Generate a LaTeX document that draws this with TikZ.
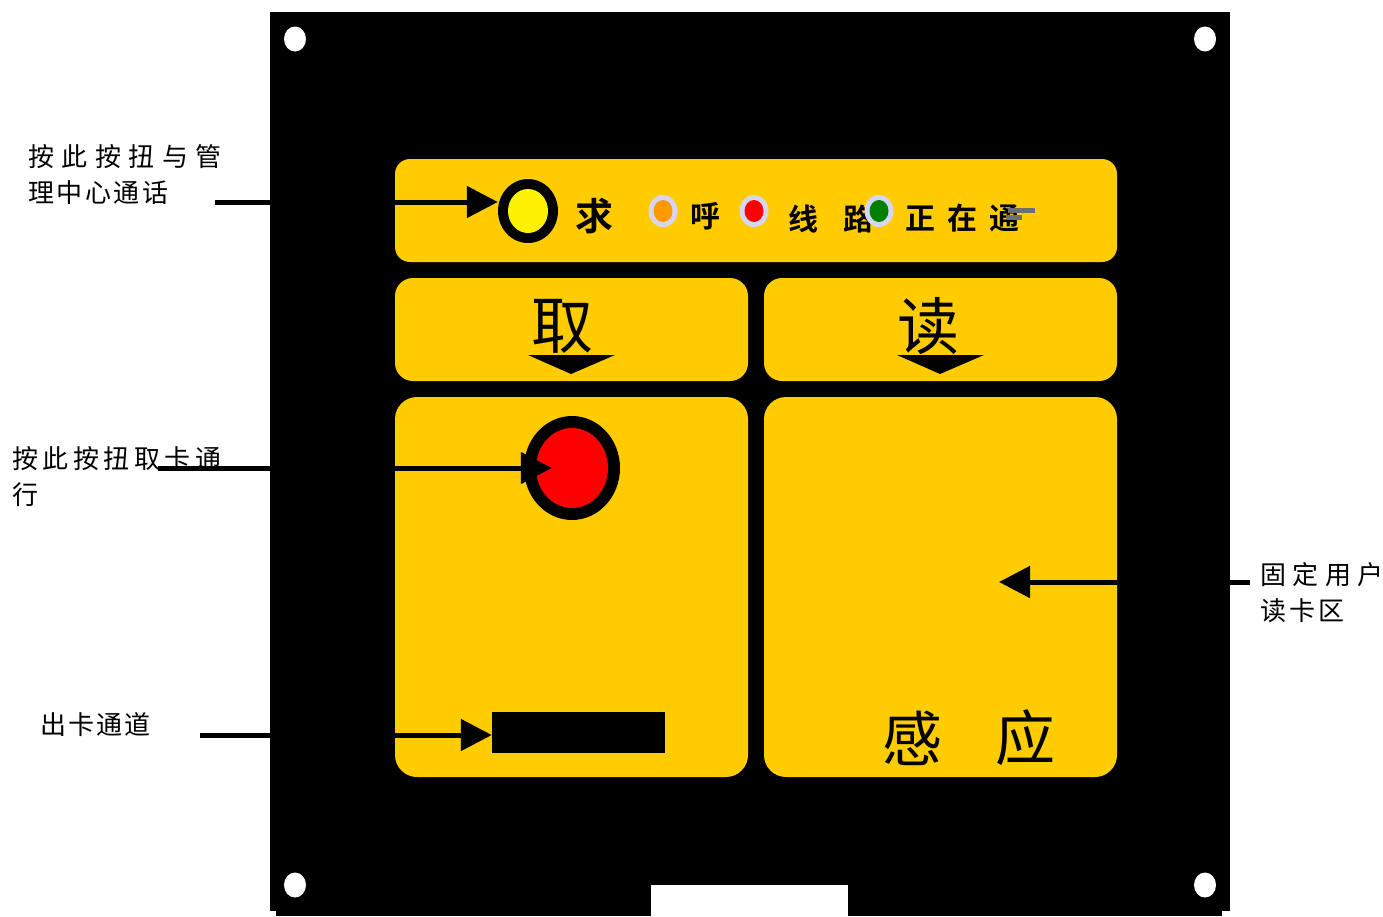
\documentclass[tikz,border=0pt]{standalone}
\usepackage{fontspec}
\newfontfamily\cjk{Noto Sans CJK SC}
\newfontfamily\cjkb{Noto Sans CJK SC Bold}
\usetikzlibrary{arrows.meta,shapes.geometric}
\definecolor{panelyellow}{HTML}{FFCC00}
\definecolor{ledring}{HTML}{D6D6F2}
\definecolor{ledorange}{HTML}{FF9900}
\definecolor{ledgreen}{HTML}{008000}
\definecolor{markgrey}{HTML}{6E6E6E}
\begin{document}
\begin{tikzpicture}[x=1pt,y=-1pt,
  ybox/.style={fill=panelyellow,draw=none,rounded corners=18pt,inner sep=0pt},
  hole/.style={ellipse,fill=white,draw=none,minimum width=22pt,minimum height=25pt,inner sep=0pt},
  conn/.style={line width=5pt,-{Triangle[length=31pt,width=31pt]}},
  lead/.style={line width=5pt},
  lab/.style={font=\cjk\fontsize{26}{26}\selectfont,anchor=west,inner sep=0pt},
  led/.style={ellipse,fill=ledring,minimum width=29pt,minimum height=32pt,inner sep=0pt},
  ledin/.style={ellipse,minimum width=19pt,minimum height=22pt,inner sep=0pt},
  stxt/.style={font=\cjkb\fontsize{30}{30}\selectfont,inner sep=0pt},
  btxt/.style={font=\cjk\fontsize{62}{62}\selectfont,inner sep=0pt}]
\useasboundingbox (0,0) rectangle (1383,916);
\fill[white] (0,0) rectangle (1383,916);
% panel
\fill[black] (270,12) rectangle (1230,911);
\fill[black] (276,911) rectangle (1222,916);
\fill[white] (651,885) rectangle (848,916);
\coordinate (panelW) at (270,468);
\coordinate (panelE) at (1230,582);
% mounting holes
\node[hole] (h1) at (295,39) {};
\node[hole] (h2) at (1205,39) {};
\node[hole] (h3) at (295,885) {};
\node[hole] (h4) at (1205,885) {};
% yellow areas
\node[ybox,minimum width=722pt,minimum height=103pt,rounded corners=15pt] (strip) at (756,210.5) {};
\node[ybox,minimum width=353pt,minimum height=103pt] (qubox) at (571.5,329.5) {};
\node[ybox,minimum width=353pt,minimum height=103pt] (dubox) at (940.5,329.5) {};
\node[ybox,minimum width=353pt,minimum height=380pt,rounded corners=22pt] (lbox) at (571.5,587) {};
\node[ybox,minimum width=353pt,minimum height=380pt,rounded corners=22pt] (rbox) at (940.5,587) {};
% call button
\node[ellipse,fill=black,minimum width=60pt,minimum height=64pt,inner sep=0pt] (ring) at (528,211) {};
\node[ellipse,fill=yellow,minimum width=40pt,minimum height=44pt,inner sep=0pt] (ringin) at (528,211) {};
\coordinate (s1) at (395,202);
\draw[conn] (s1) -- (s1 -| ring.west);
\node[stxt,font=\cjkb\fontsize{38}{38}\selectfont] (qiu) at (594,216) {求};
\node[led] (led1) at (663,211) {};
\node[ledin,fill=ledorange] (led1in) at (663,211) {};
\node[stxt] (hu) at (705,216) {呼};
\node[led] (led2) at (754,211) {};
\node[ledin,fill=red] (led2in) at (754,211) {};
\node[stxt] (xian) at (803,219) {线};
\node[stxt] (lu) at (858,219) {路};
\node[led] (led3) at (879,211) {};
\node[ledin,fill=ledgreen] (led3in) at (879,211) {};
\node[stxt] (zheng) at (920,218) {正};
\node[stxt] (zai) at (962,218) {在};
\node[stxt] (tong) at (1004,218) {通};
\fill[markgrey] (1008,208) rectangle (1035,213);
\fill[markgrey] (1006,215) rectangle (1022,220);
% qu / du labels
\node[btxt] (qu) at (562,326) {取};
\fill[black] (528,355) -- (615,355) -- (571,374) -- cycle;
\node[btxt] (du) at (928,326) {读};
\fill[black] (897,355) -- (984,355) -- (940,374) -- cycle;
% red button
\node[ellipse,fill=black,minimum width=96pt,minimum height=104pt,inner sep=0pt] (btn) at (572,468) {};
\node[ellipse,fill=red,minimum width=72pt,minimum height=80pt,inner sep=0pt] (btnin) at (572,468) {};
\coordinate (s2) at (395,468);
\draw[conn,shorten >=-16pt] (s2) -- (btnin.west);
% card slot
\node[fill=black,minimum width=173pt,minimum height=41pt,inner sep=0pt] (slot) at (578.5,732.5) {};
\coordinate (s3) at (395,735);
\draw[conn] (s3) -- (s3 -| slot.west);
% reader arrow
\coordinate (s4) at (1117,582);
\coordinate (s4end) at (999,582);
\draw[conn] (s4) -- (s4end);
\node[btxt,font=\cjk\fontsize{60}{60}\selectfont] (gan) at (912,738) {感};
\node[btxt,font=\cjk\fontsize{60}{60}\selectfont] (ying) at (1025,738) {应};
% left labels
\node[lab] (l1a) at (28,157) {按\hspace{7.5pt}此\hspace{7.5pt}按\hspace{7.5pt}扭\hspace{7.5pt}与\hspace{7.5pt}管};
\node[lab] (l1b) at (28,193) {理\hspace{2.5pt}中\hspace{2.5pt}心\hspace{2.5pt}通\hspace{2.5pt}话};
\coordinate (c1) at (215,202);
\draw[lead] (c1) -- (c1 -| panelW);
\node[lab] (l2a) at (12,459) {按\hspace{4.5pt}此\hspace{4.5pt}按\hspace{4.5pt}扭\hspace{4.5pt}取\hspace{4.5pt}卡\hspace{4.5pt}通};
\node[lab] (l2b) at (12,495) {行};
\coordinate (c2) at (158,468);
\draw[lead] (c2) -- (panelW);
\node[lab] (l3) at (40,725) {出\hspace{2pt}卡\hspace{2pt}通\hspace{2pt}道};
\coordinate (c3) at (200,735);
\draw[lead] (c3) -- (c3 -| panelW);
% right label
\coordinate (c4) at (1250,582);
\draw[lead] (panelE) -- (c4);
\node[lab] (r1a) at (1260,575) {固\hspace{6.5pt}定\hspace{6.5pt}用\hspace{6.5pt}户};
\node[lab] (r1b) at (1260,611) {读\hspace{3pt}卡\hspace{3pt}区};
\end{tikzpicture}
\end{document}
